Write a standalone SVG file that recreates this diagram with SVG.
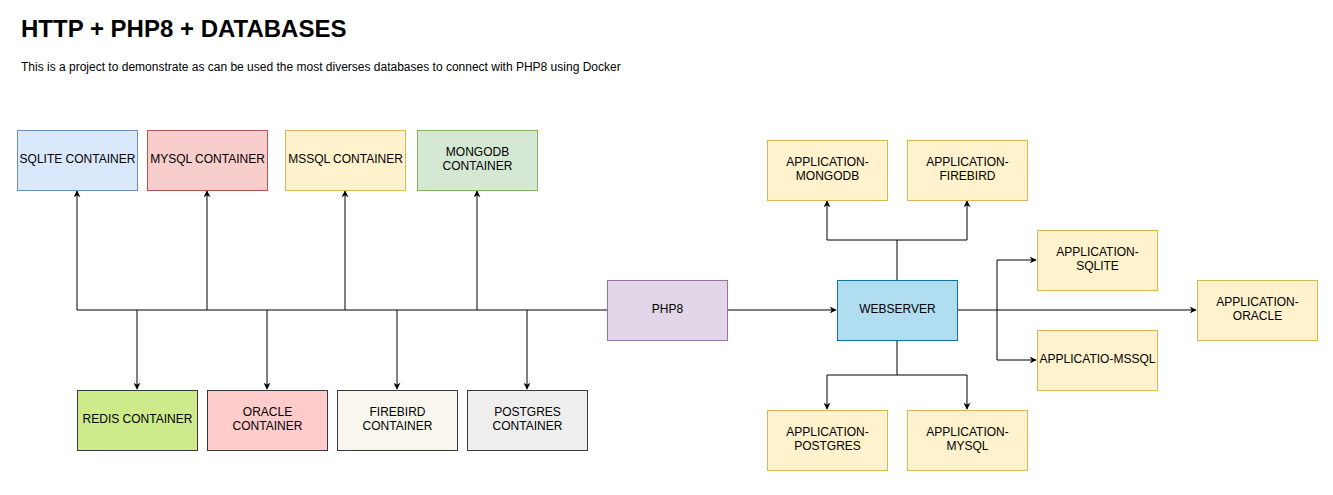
<svg xmlns="http://www.w3.org/2000/svg" width="1333" height="495" viewBox="0 0 1333 495">
<style>
text{font-family:"Liberation Sans",Arial,Helvetica,sans-serif;fill:#000}
.lbl{font-size:12px;text-anchor:middle}
.box{stroke-width:1}
.ln{fill:none;stroke:#000;stroke-width:1}
</style>
<defs>
<marker id="ar" viewBox="0 0 10 10" refX="9" refY="5" markerWidth="7" markerHeight="7" markerUnits="userSpaceOnUse" orient="auto">
<path d="M0,0 L10,5 L0,10 L3,5 Z" fill="#000"/>
</marker>
</defs>
<rect width="1333" height="495" fill="#fff"/>
<text x="21" y="37" font-size="24" font-weight="bold">HTTP + PHP8 + DATABASES</text>
<text x="21" y="71" font-size="12">This is a project to demonstrate as can be used the most diverses databases to connect with PHP8 using Docker</text>

<g id="connectors">
<path class="ln" d="M607,310 H77"/>
<path class="ln" d="M77,310 V191" marker-end="url(#ar)"/>
<path class="ln" d="M207,310 V191" marker-end="url(#ar)"/>
<path class="ln" d="M345,310 V191" marker-end="url(#ar)"/>
<path class="ln" d="M477,310 V191" marker-end="url(#ar)"/>
<path class="ln" d="M137,310 V389" marker-end="url(#ar)"/>
<path class="ln" d="M267,310 V389" marker-end="url(#ar)"/>
<path class="ln" d="M397,310 V389" marker-end="url(#ar)"/>
<path class="ln" d="M527,310 V389" marker-end="url(#ar)"/>
<path class="ln" d="M727,310 H836" marker-end="url(#ar)"/>
<path class="ln" d="M897,280 V240 H827 V201" marker-end="url(#ar)"/>
<path class="ln" d="M897,240 H967 V201" marker-end="url(#ar)"/>
<path class="ln" d="M897,340 V375 H827 V409" marker-end="url(#ar)"/>
<path class="ln" d="M897,375 H967 V409" marker-end="url(#ar)"/>
<path class="ln" d="M957,310 H1196" marker-end="url(#ar)"/>
<path class="ln" d="M997,310 V260 H1036" marker-end="url(#ar)"/>
<path class="ln" d="M997,310 V360 H1036" marker-end="url(#ar)"/>
</g>

<g id="sqlite-container"><rect class="box" x="17.5" y="130.5" width="120" height="60" fill="#dae8fc" stroke="#6c8ebf"/><text class="lbl" x="77.5" y="163">SQLITE CONTAINER</text></g>
<g id="mysql-container"><rect class="box" x="147.5" y="130.5" width="120" height="60" fill="#f8cecc" stroke="#b85450"/><text class="lbl" x="207.5" y="163">MYSQL CONTAINER</text></g>
<g id="mssql-container"><rect class="box" x="285.5" y="130.5" width="120" height="60" fill="#fff2cc" stroke="#d6b656"/><text class="lbl" x="345.5" y="163">MSSQL CONTAINER</text></g>
<g id="mongodb-container"><rect class="box" x="417.5" y="130.5" width="120" height="60" fill="#d5e8d4" stroke="#82b366"/><text class="lbl" x="477.5" y="156">MONGODB</text><text class="lbl" x="477.5" y="170">CONTAINER</text></g>

<g id="redis-container"><rect class="box" x="77.5" y="390.5" width="120" height="60" fill="#cdeb8b" stroke="#36393d"/><text class="lbl" x="137.5" y="423">REDIS CONTAINER</text></g>
<g id="oracle-container"><rect class="box" x="207.5" y="390.5" width="120" height="60" fill="#ffcccc" stroke="#36393d"/><text class="lbl" x="267.5" y="416">ORACLE</text><text class="lbl" x="267.5" y="430">CONTAINER</text></g>
<g id="firebird-container"><rect class="box" x="337.5" y="390.5" width="120" height="60" fill="#f9f7ed" stroke="#36393d"/><text class="lbl" x="397.5" y="416">FIREBIRD</text><text class="lbl" x="397.5" y="430">CONTAINER</text></g>
<g id="postgres-container"><rect class="box" x="467.5" y="390.5" width="120" height="60" fill="#eeeeee" stroke="#36393d"/><text class="lbl" x="527.5" y="416">POSTGRES</text><text class="lbl" x="527.5" y="430">CONTAINER</text></g>

<g id="php8"><rect class="box" x="607.5" y="280.5" width="120" height="60" fill="#e1d5e7" stroke="#9673a6"/><text class="lbl" x="667.5" y="313">PHP8</text></g>
<g id="webserver"><rect class="box" x="837.5" y="280.5" width="120" height="60" fill="#b1ddf0" stroke="#10739e"/><text class="lbl" x="897.5" y="313">WEBSERVER</text></g>

<g id="app-mongodb"><rect class="box" x="767.5" y="140.5" width="120" height="60" fill="#fff2cc" stroke="#d6b656"/><text class="lbl" x="827.5" y="166">APPLICATION-</text><text class="lbl" x="827.5" y="180">MONGODB</text></g>
<g id="app-firebird"><rect class="box" x="907.5" y="140.5" width="120" height="60" fill="#fff2cc" stroke="#d6b656"/><text class="lbl" x="967.5" y="166">APPLICATION-</text><text class="lbl" x="967.5" y="180">FIREBIRD</text></g>
<g id="app-sqlite"><rect class="box" x="1037.5" y="230.5" width="120" height="60" fill="#fff2cc" stroke="#d6b656"/><text class="lbl" x="1097.5" y="256">APPLICATION-</text><text class="lbl" x="1097.5" y="270">SQLITE</text></g>
<g id="app-oracle"><rect class="box" x="1197.5" y="280.5" width="120" height="60" fill="#fff2cc" stroke="#d6b656"/><text class="lbl" x="1257.5" y="306">APPLICATION-</text><text class="lbl" x="1257.5" y="320">ORACLE</text></g>
<g id="app-mssql"><rect class="box" x="1037.5" y="330.5" width="120" height="60" fill="#fff2cc" stroke="#d6b656"/><text class="lbl" x="1097.5" y="363">APPLICATIO-MSSQL</text></g>
<g id="app-postgres"><rect class="box" x="767.5" y="410.5" width="120" height="60" fill="#fff2cc" stroke="#d6b656"/><text class="lbl" x="827.5" y="436">APPLICATION-</text><text class="lbl" x="827.5" y="450">POSTGRES</text></g>
<g id="app-mysql"><rect class="box" x="907.5" y="410.5" width="120" height="60" fill="#fff2cc" stroke="#d6b656"/><text class="lbl" x="967.5" y="436">APPLICATION-</text><text class="lbl" x="967.5" y="450">MYSQL</text></g>
</svg>
